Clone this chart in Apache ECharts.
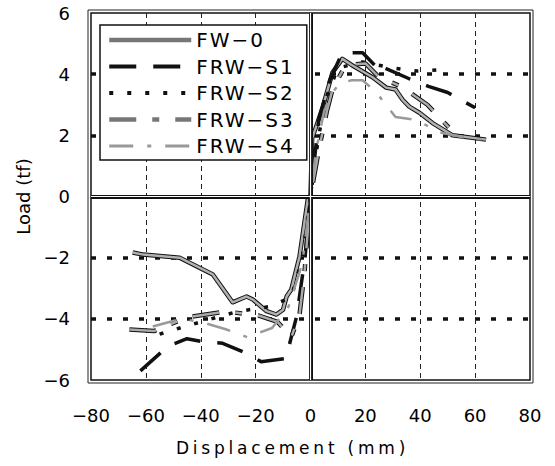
<!DOCTYPE html>
<html>
<head>
<meta charset="utf-8">
<script src="https://cdn.jsdelivr.net/npm/echarts@6/dist/echarts.min.js"></script>
<style>
  html, body { margin: 0; padding: 0; background: #fff; }
  #chart { width: 555px; height: 466px; }
</style>
</head>
<body>
<div id="chart"></div>
<script>
// axis ticks
var xTicks = [-80, -60, -40, -20, 0, 20, 40, 60, 80];
var yTicks = [-6, -4, -2, 0, 2, 4, 6];

// skeleton curves (displacement mm, load tf)
var fw0X = [-64.8, -61, -47.7, -35.6, -28.4, -23.3, -21, -16, -12.4, -10, -8.7, -7, -4, -1, 0, 0.6, 4.4, 8, 11.6, 15, 22.6, 27.6, 31, 33.5, 36, 39.7, 44.5, 51.8, 64];
var fw0Y = [-1.83, -1.9, -2.0, -2.55, -3.46, -3.27, -3.37, -3.75, -3.86, -3.7, -3.27, -3.04, -1.96, -0.1, 0, 1.9, 2.9, 4.05, 4.5, 4.3, 3.9, 3.56, 3.5, 3.17, 2.94, 2.74, 2.4, 2.0, 1.86];

var s1X = [-62, -52, -45, -39, -32, -24, -18, -9, -5, -2, 0, 3, 7, 11.6, 19, 26, 27, 36, 43, 50, 60];
var s1Y = [-5.7, -4.9, -4.65, -4.75, -4.8, -5.1, -5.4, -5.3, -3.9, -2.0, 0, 2.5, 3.8, 4.7, 4.7, 4.05, 4.2, 3.85, 3.6, 3.4, 2.9];

var s2X = [-55, -49.5, -40, -26.6, -15, -7, -3, 0, 3, 6, 10, 19, 30, 39, 48];
var s2Y = [-4.5, -4.35, -4.1, -3.76, -3.6, -3.3, -2.0, 0, 2.0, 3.3, 4.2, 4.4, 4.2, 4.1, 4.15];

var s3X = [-66, -57, -45, -30.6, -18.6, -12, -7, -4, -2.2, 0, 3, 6, 8, 11.6, 14, 20, 25, 33, 42.6, 50.5, 55];
var s3Y = [-4.35, -4.4, -3.95, -3.76, -3.9, -4.1, -4.6, -3.86, -2.5, 0, 1.5, 2.8, 3.5, 4.1, 4.3, 4.35, 3.9, 3.6, 3.0, 2.25, 2.0];

var s4X = [-57.5, -47, -40, -30.6, -23, -14, -8, -3, 0, 2, 5, 8, 10.6, 15, 19, 24, 28.8, 31, 38.6, 47, 55, 64];
var s4Y = [-4.25, -4.0, -4.1, -4.35, -4.6, -4.3, -3.6, -2.2, 0, 1.5, 2.8, 3.4, 3.7, 3.8, 3.8, 3.4, 2.85, 2.6, 2.5, 2.1, 1.95, 1.85];

var names = ['FW−0', 'FRW−S1', 'FRW−S2', 'FRW−S3', 'FRW−S4'];
var xName = 'Displacement (mm)';
var yName = 'Load (tf)';

function pairs(xs, ys) {
    return xs.map(function (x, i) { return [x, ys[i]]; });
}
function minus(v) {
    return String(v).replace('-', '−');
}

var FONT = 'DejaVu Sans';
var INK = '#000';
var dom = document.getElementById('chart');
var myChart = echarts.init(dom, null, { renderer: 'svg' });

// each curve: dark outline underneath, lighter core on top
function curve(name, xs, ys, core, outline, type, w) {
    var list = [];
    if (outline) {
        list.push({
            name: name + ' edge', type: 'line', data: pairs(xs, ys),
            showSymbol: false, symbol: 'none', silent: true, z: 3,
            lineStyle: { color: outline, width: w + 2, type: type, cap: 'butt', join: 'round' }
        });
    }
    list.push({
        name: name, type: 'line', data: pairs(xs, ys),
        showSymbol: false, symbol: 'none', z: 4,
        itemStyle: { opacity: 0 },
        lineStyle: { color: core, width: w, type: type, cap: 'butt', join: 'round' }
    });
    return list;
}

var series = [].concat(
    curve(names[0], fw0X, fw0Y, '#b0b0b0', '#111', 'solid', 2.5),
    curve(names[1], s1X, s1Y, '#111', null, [27, 17], 3.5),
    curve(names[2], s2X, s2Y, '#111', null, [4, 14], 3.5),
    curve(names[3], s3X, s3Y, '#aaa', '#111', [27, 16, 7, 16], 2.5),
    curve(names[4], s4X, s4Y, '#9a9a9a', null, [24, 14, 4, 14], 2.5)
);

// zero axes drawn as double lines
series.push({
    type: 'line', data: [], silent: true, z: 2,
    markLine: {
        symbol: 'none', silent: true, label: { show: false },
        lineStyle: { color: '#111', width: 4, type: 'solid' },
        data: [{ xAxis: 0 }, { yAxis: 0 }]
    }
});
series.push({
    type: 'line', data: [], silent: true, z: 2,
    markLine: {
        symbol: 'none', silent: true, label: { show: false },
        lineStyle: { color: '#fff', width: 1.2, type: 'solid' },
        data: [{ xAxis: 0 }, { yAxis: 0 }]
    }
});

// legend swatches: a bit heavier than the plotted strokes, as in the scan
var legendStyles = [
    { color: '#777', width: 4.5 },
    { color: '#111', width: 4 },
    { color: '#111', width: 4 },
    { color: '#777', width: 4.5 },
    { color: '#999', width: 3 }
];
var legendData = names.map(function (n, i) {
    return { name: n, lineStyle: legendStyles[i] };
});

var option = {
    animation: false,
    backgroundColor: '#fff',
    grid: {
        left: 91, right: 25, top: 13, bottom: 86,
        show: true, borderColor: '#111', borderWidth: 1.5, backgroundColor: 'transparent'
    },
    graphic: [{
        type: 'rect', silent: true, z: 0,
        shape: { x: 88, y: 10, width: 445, height: 373 },
        style: { fill: 'none', stroke: '#222', lineWidth: 1 }
    }],
    legend: {
        data: legendData,
        orient: 'vertical',
        left: 100, top: 25,
        itemWidth: 82, itemHeight: 20, itemGap: 6.5,
        padding: [5, 24, 4, 7],
        backgroundColor: '#fff',
        borderColor: '#111', borderWidth: 1.5,
        itemStyle: { opacity: 0 },
        textStyle: { fontFamily: FONT, fontSize: 20, color: INK }
    },
    xAxis: {
        type: 'value', min: -80, max: 80, interval: 20,
        name: xName, nameLocation: 'middle', nameGap: 59,
        nameTextStyle: { fontFamily: FONT, fontSize: 17, color: INK, padding: [0, 36, 0, 0] },
        axisLine: { show: false }, axisTick: { show: false },
        axisLabel: { fontFamily: FONT, fontSize: 18, color: INK, margin: 26, formatter: minus },
        splitLine: { show: true, showMinLine: false, showMaxLine: false, lineStyle: { color: '#222', width: 1, type: [5, 4] } }
    },
    yAxis: {
        type: 'value', min: -6, max: 6, interval: 2,
        name: yName, nameLocation: 'middle', nameGap: 58,
        nameTextStyle: { fontFamily: FONT, fontSize: 18, color: INK },
        axisLine: { show: false }, axisTick: { show: false },
        axisLabel: { fontFamily: FONT, fontSize: 18, color: INK, margin: 21, padding: [7, 0, 0, 0], formatter: minus },
        splitLine: { show: true, showMinLine: false, showMaxLine: false, lineStyle: { color: '#111', width: 3.5, type: [5, 11] } }
    },
    series: series
};

// the scan's captions are set with wide letter spacing
function spaceOut() {
    dom.querySelectorAll('text').forEach(function (t) {
        var s = t.textContent;
        if (s === xName) t.style.letterSpacing = '3.8px';
        else if (names.indexOf(s) >= 0) t.style.letterSpacing = '2px';
    });
}

myChart.on('finished', spaceOut);
myChart.setOption(option);
spaceOut();
window.addEventListener('resize', function () { myChart.resize(); spaceOut(); });
</script>
</body>
</html>
